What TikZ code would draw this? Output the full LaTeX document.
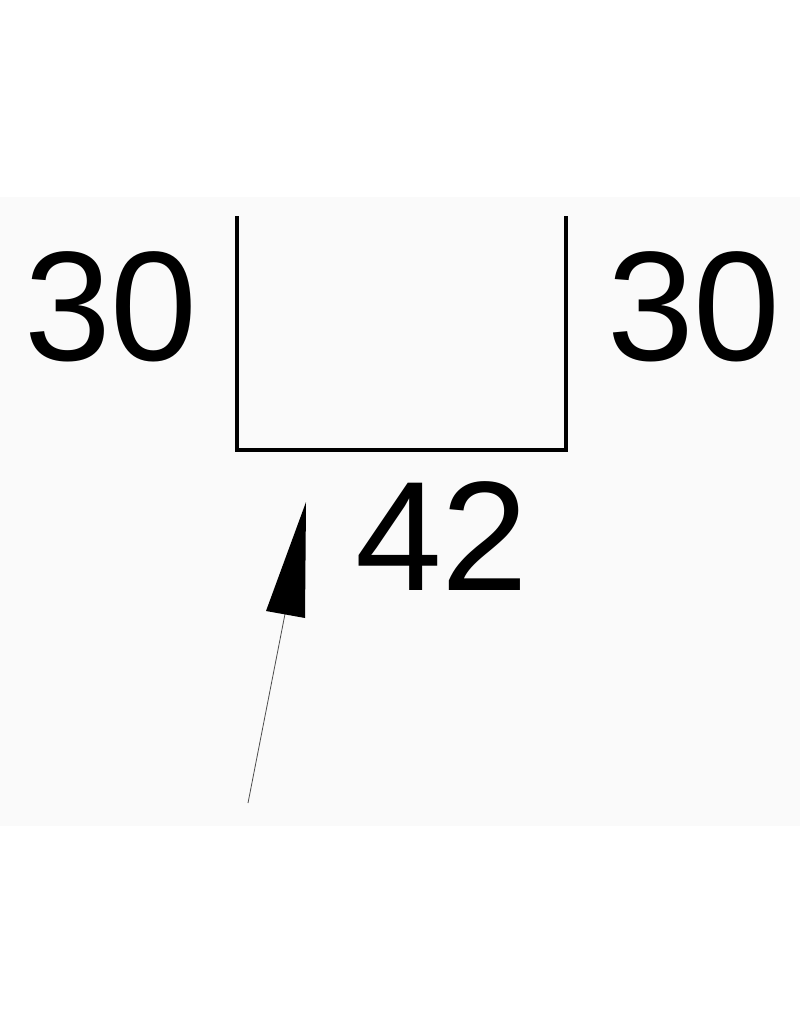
\documentclass[tikz,border=0pt]{standalone}
\usepackage{fontspec}
\setmainfont{Liberation Sans}
\begin{document}
\begin{tikzpicture}[
        x                       = 0.75pt,
        y                       = -0.75pt,
        dim/.style              = {inner sep=0pt, font=\fontsize{117}{117}\selectfont},
        wall/.style             = {draw, black, line width=2.4pt},
        %thin leader line
        leader/.style           = {draw, black!70, line width=0.6pt}
      ]
        \useasboundingbox (0,0) rectangle (800,1024);
        \fill[white] (0,0) rectangle (800,1024);
        \fill[black!2] (0,197) rectangle (800,826);
        \coordinate (tl) at (237,216);
        \coordinate (bl) at (237,450);
        \coordinate (br) at (566,450);
        \coordinate (tr) at (566,216);
        \draw[wall] (tl) -- (bl) -- (br) -- (tr);
        \node[dim] (left)  at (111,307) {30};
        \node[dim] (right) at (694,307) {30};
        \node[dim] (bottom) at (442,536) {42};
        \coordinate (tail) at (248,803);
        \coordinate (tip)  at (306,502);
        \coordinate (base) at (285,614);
        \draw[leader] (tail) -- (base);
        \fill[black] (tip) -- (266,611) -- (305,618) -- cycle;
    \end{tikzpicture}
\end{document}
